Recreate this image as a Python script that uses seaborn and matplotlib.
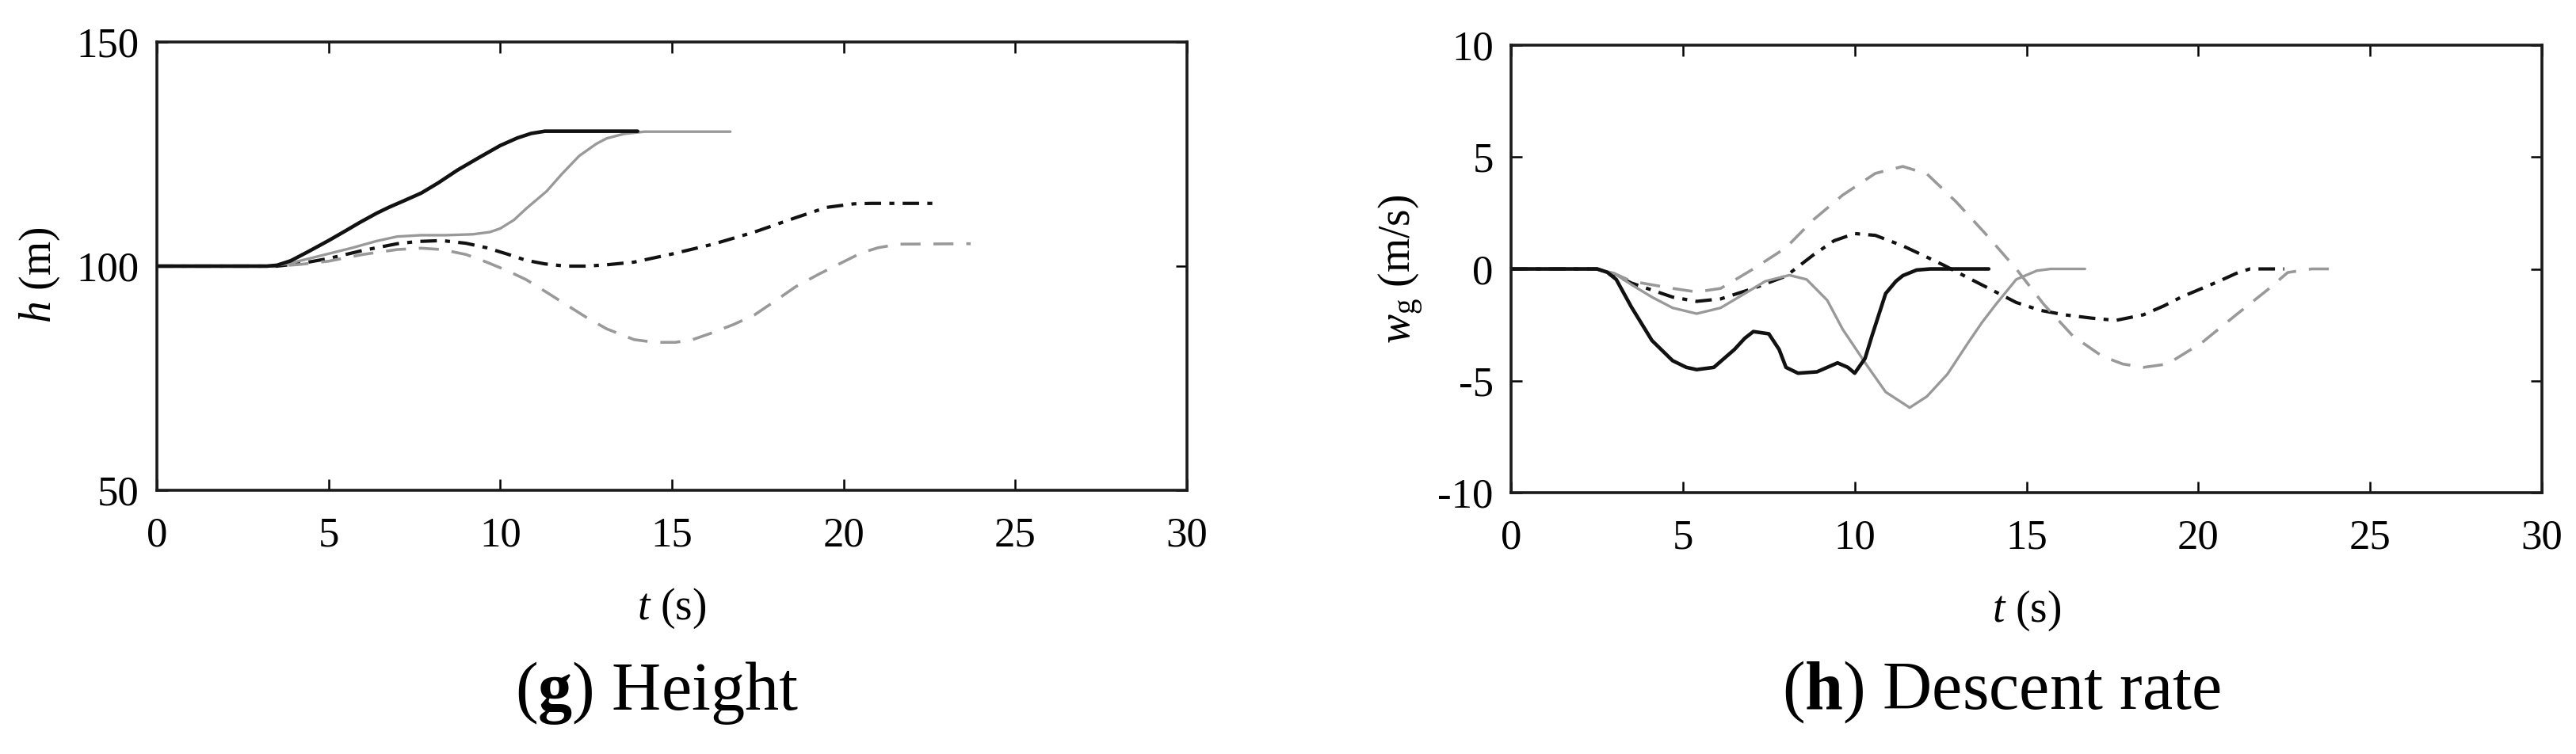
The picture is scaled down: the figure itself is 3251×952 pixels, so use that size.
import numpy as np
import matplotlib
matplotlib.use("Agg")
import matplotlib.pyplot as plt
import seaborn as sns

# ---- (g) height h [m] vs t [s] ----
t_blk = [0, 3.2, 3.5, 3.9, 4.4, 5.0, 5.5, 5.9, 6.4, 6.75, 7.2, 7.7, 8.2, 8.75, 9.4, 10.0, 10.5, 10.9, 11.3, 14.0]
h_blk = [100, 100, 100.2, 101.2, 103.2, 105.7, 107.9, 109.7, 111.8, 113.1, 114.6, 116.3, 118.6, 121.4, 124.3, 126.9, 128.6, 129.6, 130.1, 130.1]

t_gry = [0, 3.3, 3.8, 4.6, 5.7, 6.4, 7.0, 7.7, 8.4, 9.2, 9.7, 10.0, 10.4, 10.75, 11.35, 11.8, 12.3, 12.8, 13.1, 13.6, 14.2, 16.7]
h_gry = [100, 100, 100.5, 102.0, 104.1, 105.6, 106.6, 106.9, 106.9, 107.1, 107.6, 108.4, 110.3, 112.8, 116.7, 120.6, 124.6, 127.3, 128.5, 129.5, 130, 130]

t_dd = [0, 3.5, 4.2, 5.0, 6.0, 7.0, 7.6, 8.3, 9.0, 9.6, 10.2, 10.75, 11.3, 11.9, 12.5, 13.1, 13.9, 15.0, 16.2, 17.4, 18.6, 19.5, 20.3, 20.8, 22.7]
h_dd = [100, 100, 100.6, 101.7, 103.5, 105.0, 105.5, 105.7, 105.1, 104.1, 102.7, 101.3, 100.5, 100.0, 100.0, 100.3, 100.9, 102.7, 104.9, 107.6, 110.8, 113.1, 113.9, 114.0, 114.0]

t_dsh = [0, 3.5, 4.2, 5.0, 6.0, 7.0, 7.7, 8.3, 9.0, 9.6, 10.2, 10.75, 11.3, 11.9, 12.5, 13.1, 13.9, 14.5, 15.1, 15.6, 16.2, 16.8, 17.4, 18.0, 18.6, 19.3, 19.9, 20.5, 21.0, 21.6, 23.7]
h_dsh = [100, 100, 100.4, 101.1, 102.6, 103.7, 104.0, 103.7, 102.6, 100.9, 99.0, 97.0, 94.4, 91.5, 88.6, 86.0, 83.6, 83.0, 83.0, 83.6, 85.2, 87.0, 89.1, 92.2, 95.4, 98.3, 100.6, 102.9, 104.1, 104.9, 105.0]

# ---- (h) descent rate w_g [m/s] vs t [s] ----
tw_blk = [0, 2.5, 2.8, 3.06, 3.5, 4.1, 4.7, 5.1, 5.4, 5.9, 6.5, 6.8, 7.05, 7.5, 7.8, 8.0, 8.35, 8.9, 9.5, 9.8, 10.0, 10.3, 10.5, 10.9, 11.2, 11.4, 11.8, 12.2, 13.9]
w_blk = [0, 0, -0.15, -0.47, -1.7, -3.2, -4.1, -4.4, -4.5, -4.4, -3.6, -3.1, -2.8, -2.9, -3.6, -4.4, -4.66, -4.6, -4.2, -4.4, -4.66, -4.0, -3.0, -1.1, -0.55, -0.3, -0.05, 0, 0]

tw_gry = [0, 2.5, 3.0, 3.5, 4.1, 4.7, 5.4, 6.1, 6.8, 7.4, 8.1, 8.6, 9.2, 9.65, 10.0, 10.35, 10.9, 11.4, 11.6, 12.1, 12.7, 13.3, 13.7, 14.1, 14.7, 15.3, 15.7, 16.7]
w_gry = [0, 0, -0.2, -0.7, -1.26, -1.74, -2.0, -1.74, -1.1, -0.55, -0.28, -0.47, -1.4, -2.7, -3.5, -4.3, -5.5, -6.0, -6.2, -5.7, -4.7, -3.3, -2.4, -1.6, -0.47, -0.08, 0, 0]

tw_dd = [0, 2.5, 3.0, 3.5, 4.7, 5.4, 6.1, 7.05, 8.0, 8.8, 9.4, 10.0, 10.6, 11.4, 12.0, 12.6, 13.2, 13.8, 14.7, 15.4, 16.1, 16.9, 17.6, 18.4, 19.0, 19.5, 20.6, 21.1, 21.5, 22.5]
w_dd = [0, 0, -0.25, -0.63, -1.26, -1.45, -1.34, -0.87, -0.32, 0.63, 1.26, 1.58, 1.5, 1.03, 0.6, 0.16, -0.32, -0.79, -1.5, -1.85, -2.05, -2.2, -2.3, -2.05, -1.65, -1.26, -0.55, -0.2, 0, 0]

tw_dsh = [0, 2.5, 3.0, 3.5, 4.7, 5.4, 6.1, 7.05, 8.0, 8.8, 9.65, 10.6, 11.4, 12.1, 12.95, 13.8, 14.7, 15.5, 16.35, 17.2, 17.8, 18.4, 19.1, 20.1, 21.1, 22.0, 22.6, 23.3, 24.1]
w_dsh = [0, 0, -0.2, -0.55, -0.87, -1.03, -0.87, 0, 0.95, 2.2, 3.3, 4.27, 4.58, 4.25, 3.0, 1.58, 0, -1.58, -3.0, -3.9, -4.25, -4.4, -4.25, -3.3, -2.05, -0.95, -0.16, 0, 0]

x_ticks = [0, 5, 10, 15, 20, 25, 30]
h_ticks = [50, 100, 150]
w_ticks = [-10, -5, 0, 5, 10]

sns.set_style("ticks")
plt.rcParams['font.family'] = ['Liberation Serif', 'DejaVu Serif']
plt.rcParams['mathtext.fontset'] = 'custom'
plt.rcParams['mathtext.rm'] = 'Liberation Serif'
plt.rcParams['mathtext.it'] = 'Liberation Serif:italic'
plt.rcParams['mathtext.bf'] = 'Liberation Serif:bold'
plt.rcParams['axes.unicode_minus'] = False
plt.rcParams['text.color'] = 'black'
plt.rcParams['axes.labelcolor'] = 'black'

BLK = '#111111'
GRY = '#999999'
styles = dict(
    blk=dict(color=BLK, lw=3.3, linestyle='-'),
    gry=dict(color=GRY, lw=2.4, linestyle='-'),
    dd=dict(color=BLK, lw=3.0, linestyle=(0, (5, 2.5, 1.5, 2.5))),
    dsh=dict(color=GRY, lw=2.6, linestyle=(0, (7, 4.5))),
)

fig = plt.figure(figsize=(32.51, 9.52), dpi=100)
ax1 = fig.add_axes([0.0609, 0.3498, 0.3999, 0.5945])
ax2 = fig.add_axes([0.5866, 0.3466, 0.4002, 0.5935])

for t, y, k in [(t_dd, h_dd, 'dd'), (t_dsh, h_dsh, 'dsh'), (t_gry, h_gry, 'gry'), (t_blk, h_blk, 'blk')]:
    sns.lineplot(x=t, y=y, ax=ax1, sort=False, estimator=None, **styles[k])
for t, y, k in [(tw_dd, w_dd, 'dd'), (tw_dsh, w_dsh, 'dsh'), (tw_gry, w_gry, 'gry'), (tw_blk, w_blk, 'blk')]:
    sns.lineplot(x=t, y=y, ax=ax2, sort=False, estimator=None, **styles[k])

for ax, yt in [(ax1, h_ticks), (ax2, w_ticks)]:
    ax.set_xlim(0, 30)
    ax.set_ylim(yt[0], yt[-1])
    ax.set_xticks(x_ticks)
    ax.set_yticks(yt)
    ax.tick_params(direction='in', length=10, width=1.8, labelsize=38,
                   top=True, right=True, colors='black')
    ax.tick_params(axis='x', pad=24)
    ax.tick_params(axis='y', pad=16)
    for s in ax.spines.values():
        s.set_linewidth(2.6)
        s.set_color('#1a1a1a')
    ax.set_xlabel(r'$t$ (s)', fontsize=40)
    ax.xaxis.set_label_coords(0.5, -0.215)

ax1.set_ylabel(r'$h$ (m)', fontsize=40)
ax1.yaxis.set_label_coords(-0.092, 0.48)
ax2.set_ylabel(r'$w_{\mathrm{g}}$ (m/s)', fontsize=40)
ax2.yaxis.set_label_coords(-0.083, 0.5)

fig.text(0.255, 0.081, r'($\mathbf{g}$) Height', fontsize=62, ha='center', va='center')
fig.text(0.777, 0.081, r'($\mathbf{h}$) Descent rate', fontsize=62, ha='center', va='center')

fig.savefig('out.png', dpi=100)
